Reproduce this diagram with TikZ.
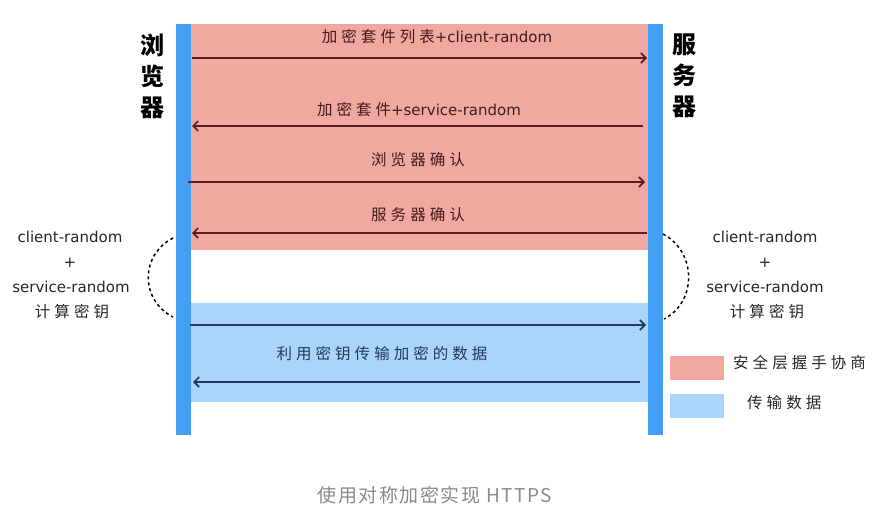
\documentclass[tikz,border=0pt]{standalone}
\usepackage{fontspec}
\usepackage{tikz}
\usetikzlibrary{arrows.meta}

\newfontfamily\hw[LetterSpace=26]{Noto Sans CJK SC}
\newfontfamily\lat{DejaVu Sans}
\newfontfamily\capfont[LetterSpace=8]{Noto Sans CJK SC}
\newcommand\cjtxt[1]{{\hw\fontsize{15.5}{18}\selectfont #1}}
\newcommand\lattxt[1]{{\lat\fontsize{15}{18}\selectfont #1}}

\definecolor{handshake}{HTML}{EFA9A1}
\definecolor{transfer}{HTML}{AAD4F9}
\definecolor{lifeline}{HTML}{429FF4}
\definecolor{redarrow}{HTML}{5B1F1F}
\definecolor{bluearrow}{HTML}{1F3A5C}
\definecolor{captiongray}{HTML}{8A8A8A}

\begin{document}
\begin{tikzpicture}[x=1pt,y=-1pt,
    lbl/.style={inner sep=0pt, text=black!85},
    actor/.style={font=\hw\bfseries\fontsize{24}{31}\selectfont, align=center, inner sep=0pt},
    msg/.style={line width=1.6pt, -{Straight Barb[length=5pt,width=10pt]}},
    keyarc/.style={line width=1.5pt, dash pattern=on 3pt off 3pt}]

\useasboundingbox (0,0) rectangle (884,522);

\fill[handshake] (191,24) rectangle (648,250); % handshake phase
\fill[transfer] (191,303) rectangle (648,402); % data phase
\fill[lifeline] (176,24) rectangle (191,435); % browser line
\fill[lifeline] (648,24) rectangle (663,435); % server line

\node [actor] (browser) at (152,76) {浏\\览\\器};
\node [actor] (server) at (684,76) {服\\务\\器};

\node [lbl, text=redarrow!80!black] (m1) at (437,37) {\cjtxt{加密套件列表}\lattxt{+client-random}};
\node [lbl, text=redarrow!80!black] (m2) at (419,110) {\cjtxt{加密套件}\lattxt{+service-random}};
\node [lbl, text=redarrow!80!black] (m3) at (418,160) {\cjtxt{浏览器确认}};
\node [lbl, text=redarrow!80!black] (m4) at (418,215) {\cjtxt{服务器确认}};
\node [lbl, text=bluearrow] (m5) at (382,354) {\cjtxt{利用密钥传输加密的数据}};

\coordinate (L1) at (192,58);  \coordinate (R1) at (647,58);
\coordinate (L2) at (192,126); \coordinate (R2) at (643,126);
\coordinate (L3) at (188,182); \coordinate (R3) at (645,182);
\coordinate (L4) at (192,233); \coordinate (R4) at (647,233);
\coordinate (L5) at (190,325); \coordinate (R5) at (646,325);
\coordinate (L6) at (193,382); \coordinate (R6) at (640,382);

\draw[msg, redarrow] (L1) -- (R1);
\draw[msg, redarrow] (R2) -- (L2);
\draw[msg, redarrow] (L3) -- (R3);
\draw[msg, redarrow] (R4) -- (L4);
\draw[msg, bluearrow] (L5) -- (R5);
\draw[msg, bluearrow] (R6) -- (L6);

% key calculation on both sides
\node [lbl] (lc) at (70,237) {\lattxt{client-random}};
\node [lbl] (lp) at (70,263) {\lattxt{+}};
\node [lbl] (ls) at (71,287) {\lattxt{service-random}};
\node [lbl] (lk) at (72,312) {\cjtxt{计算密钥}};
\node [lbl] (rc) at (765,237) {\lattxt{client-random}};
\node [lbl] (rp) at (765,263) {\lattxt{+}};
\node [lbl] (rs) at (765,287) {\lattxt{service-random}};
\node [lbl] (rk) at (767,312) {\cjtxt{计算密钥}};

\coordinate (la) at (173,238); \coordinate (lb) at (173,317);
\coordinate (ra) at (663,234); \coordinate (rb) at (664,319);
\draw[keyarc] (la) .. controls (140,255) and (140,300) .. (lb);
\draw[keyarc] (ra) .. controls (697,252) and (697,302) .. (rb);

% legend
\fill[handshake] (670,356) rectangle (724,380);
\fill[transfer] (670,394) rectangle (724,418);
\node [lbl, anchor=west] (hs) at (733,363) {\cjtxt{安全层握手协商}};
\node [lbl, anchor=west] (tr) at (747,403) {\cjtxt{传输数据}};

\node [font=\capfont\fontsize{19}{22}\selectfont, text=captiongray] (cap) at (435,495) {使用对称加密实现 HTTPS};

\end{tikzpicture}
\end{document}
